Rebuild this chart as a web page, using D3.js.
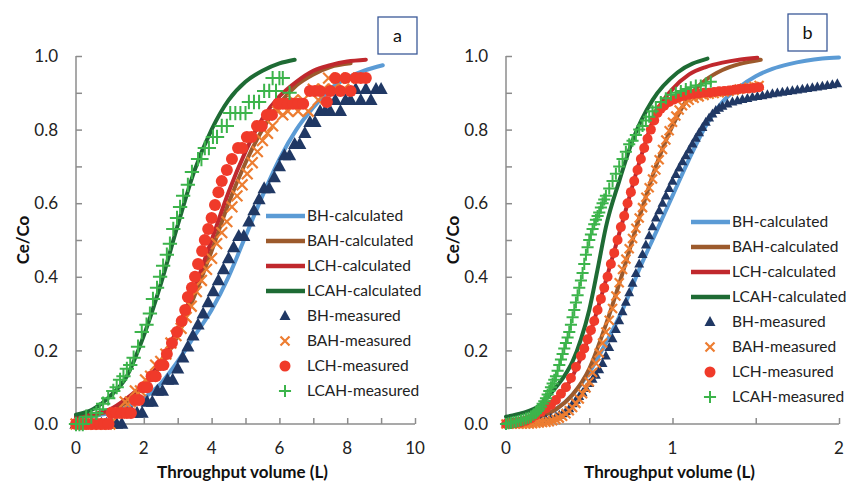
<!DOCTYPE html>
<html><head><meta charset="utf-8">
<script src="https://cdn.jsdelivr.net/npm/d3@7"></script>
<style>body{margin:0;background:#fff}svg{display:block;font-family:Lato,"Open Sans",sans-serif}</style>
</head><body>
<script>
// ---------------- DATA ----------------
const seriesNames = ["BH-calculated","BAH-calculated","LCH-calculated","LCAH-calculated","BH-measured","BAH-measured","LCH-measured","LCAH-measured"];
const yTickLabels = ["0.0","0.2","0.4","0.6","0.8","1.0"];
const xTickLabelsA = ["0","2","4","6","8","10"];
const xTickLabelsB = ["0","1","2"];

// Panel a – calculated curves [volume L, Ce/Co]
const a_BH_calc = [[0,0.02],[1,0.03],[1.5,0.045],[2,0.07],[2.5,0.11],[3,0.17],[3.5,0.24],[4,0.31],[4.5,0.4],[5,0.51],[5.5,0.62],[6,0.72],[6.5,0.8],[7,0.86],[7.5,0.91],[8,0.94],[8.5,0.96],[9.05,0.975]];
const a_BAH_calc = [[0,0.02],[1,0.035],[1.5,0.06],[2,0.1],[2.5,0.16],[3,0.24],[3.5,0.35],[4,0.47],[4.5,0.6],[5,0.71],[5.5,0.8],[6,0.87],[6.5,0.92],[7,0.95],[7.5,0.97],[8.1,0.98]];
const a_LCH_calc = [[0,0.02],[1,0.04],[1.5,0.07],[2,0.11],[2.5,0.17],[3,0.26],[3.5,0.37],[4,0.5],[4.5,0.63],[5,0.74],[5.5,0.83],[6,0.89],[6.5,0.93],[7,0.96],[7.5,0.975],[8,0.985],[8.55,0.99]];
const a_LCAH_calc = [[0,0.025],[0.5,0.04],[1,0.075],[1.5,0.13],[2,0.24],[2.5,0.38],[3,0.54],[3.5,0.69],[4,0.8],[4.5,0.88],[5,0.93],[5.5,0.96],[6,0.98],[6.45,0.99]];

// Panel a – measured
const a_BH_meas = [[0,0],[0.15,0],[0.3,0],[0.45,0],[0.6,0],[0.75,0],[0.9,0],[1.05,0],[1.2,0],[1.35,0],[1.5,0.03],[1.65,0.03],[1.8,0.03],[1.95,0.03],[2.1,0.06],[2.25,0.06],[2.4,0.09],[2.55,0.09],[2.7,0.12],[2.85,0.12],[3.0,0.15],[3.15,0.18],[3.3,0.21],[3.45,0.24],[3.6,0.27],[3.75,0.3],[3.9,0.33],[4.05,0.36],[4.2,0.39],[4.35,0.42],[4.5,0.45],[4.65,0.48],[4.8,0.51],[4.95,0.51],[5.1,0.55],[5.25,0.58],[5.4,0.61],[5.55,0.64],[5.7,0.64],[5.85,0.67],[6.0,0.7],[6.15,0.73],[6.3,0.73],[6.45,0.76],[6.6,0.76],[6.75,0.79],[6.9,0.82],[7.05,0.82],[7.2,0.85],[7.35,0.85],[7.5,0.85],[7.65,0.88],[7.8,0.85],[7.95,0.88],[8.1,0.88],[8.25,0.91],[8.4,0.88],[8.55,0.91],[8.7,0.88],[8.85,0.91],[9.0,0.91]];
const a_BAH_meas = [[0,0],[0.15,0],[0.3,0],[0.45,0],[0.6,0],[0.75,0],[0.9,0],[1.0,0],[1.15,0.03],[1.3,0.03],[1.45,0.06],[1.6,0.06],[1.75,0.09],[1.9,0.09],[2.05,0.12],[2.2,0.13],[2.35,0.16],[2.5,0.17],[2.65,0.19],[2.8,0.22],[2.95,0.24],[3.1,0.26],[3.25,0.29],[3.4,0.32],[3.55,0.36],[3.7,0.39],[3.85,0.42],[4.0,0.45],[4.15,0.49],[4.3,0.52],[4.45,0.55],[4.6,0.59],[4.75,0.62],[4.9,0.65],[5.05,0.68],[5.2,0.71],[5.35,0.74],[5.5,0.77],[5.65,0.79],[5.8,0.81],[5.95,0.85],[6.1,0.84],[6.25,0.85],[6.4,0.88],[6.55,0.85],[6.7,0.88],[6.85,0.85],[7.0,0.91],[7.15,0.88],[7.3,0.91],[7.45,0.94],[7.6,0.91],[7.75,0.94],[7.9,0.91],[8.05,0.94]];
const a_LCH_meas = [[0,0],[0.12,0],[0.24,0],[0.36,0],[0.48,0],[0.6,0],[0.72,0],[0.84,0],[0.96,0],[1.05,0.03],[1.2,0.03],[1.35,0.03],[1.5,0.03],[1.62,0.03],[1.74,0.065],[1.86,0.065],[1.98,0.1],[2.1,0.1],[2.23,0.13],[2.35,0.13],[2.48,0.16],[2.58,0.16],[2.68,0.19],[2.83,0.22],[2.98,0.25],[3.12,0.28],[3.22,0.31],[3.3,0.345],[3.42,0.37],[3.51,0.4],[3.6,0.435],[3.72,0.47],[3.8,0.5],[3.9,0.53],[4.0,0.56],[4.1,0.595],[4.2,0.63],[4.3,0.66],[4.45,0.69],[4.6,0.72],[4.78,0.75],[4.9,0.75],[5.04,0.78],[5.18,0.78],[5.34,0.81],[5.48,0.81],[5.63,0.84],[5.78,0.84],[5.97,0.87],[6.1,0.87],[6.25,0.87],[6.4,0.87],[6.55,0.87],[6.7,0.87],[6.9,0.905],[7.05,0.905],[7.2,0.905],[7.4,0.875],[7.5,0.905],[7.65,0.94],[7.8,0.905],[7.95,0.94],[8.1,0.905],[8.25,0.94],[8.4,0.94],[8.55,0.94]];
const a_LCAH_meas = [[0,0],[0.1,0],[0.2,0],[0.3,0.02],[0.45,0.02],[0.6,0.03],[0.7,0.04],[0.8,0.055],[0.95,0.07],[1.1,0.09],[1.2,0.1],[1.3,0.12],[1.4,0.13],[1.5,0.15],[1.6,0.16],[1.7,0.18],[1.83,0.21],[1.94,0.25],[2.08,0.27],[2.18,0.3],[2.27,0.34],[2.39,0.37],[2.48,0.4],[2.57,0.43],[2.68,0.46],[2.77,0.49],[2.87,0.53],[2.98,0.56],[3.07,0.59],[3.16,0.62],[3.3,0.65],[3.42,0.685],[3.6,0.72],[3.7,0.72],[3.8,0.75],[3.92,0.75],[4.04,0.78],[4.16,0.78],[4.3,0.81],[4.45,0.81],[4.55,0.845],[4.7,0.845],[4.85,0.845],[5.0,0.845],[5.1,0.875],[5.25,0.875],[5.4,0.875],[5.55,0.905],[5.7,0.905],[5.8,0.94],[5.9,0.905],[6.0,0.94],[6.1,0.94],[6.3,0.9]];

// Panel b – calculated curves
const b_BH_calc = [[0,0.005],[0.1,0.01],[0.2,0.02],[0.3,0.04],[0.4,0.08],[0.5,0.14],[0.6,0.22],[0.7,0.31],[0.8,0.42],[0.9,0.52],[1.0,0.62],[1.1,0.72],[1.2,0.81],[1.3,0.875],[1.4,0.915],[1.5,0.945],[1.6,0.965],[1.7,0.978],[1.8,0.987],[1.9,0.993],[2.0,0.996]];
const b_BAH_calc = [[0,0.01],[0.1,0.012],[0.2,0.02],[0.3,0.04],[0.4,0.08],[0.5,0.15],[0.6,0.27],[0.7,0.41],[0.8,0.56],[0.9,0.7],[1.0,0.81],[1.1,0.89],[1.2,0.935],[1.3,0.962],[1.4,0.978],[1.53,0.99]];
const b_LCH_calc = [[0,0.01],[0.1,0.015],[0.2,0.03],[0.3,0.065],[0.4,0.13],[0.5,0.24],[0.6,0.39],[0.7,0.55],[0.8,0.71],[0.9,0.845],[1.0,0.91],[1.1,0.95],[1.2,0.97],[1.3,0.982],[1.4,0.99],[1.51,0.995]];
const b_LCAH_calc = [[0,0.02],[0.1,0.03],[0.2,0.05],[0.3,0.1],[0.35,0.13],[0.4,0.17],[0.45,0.23],[0.5,0.31],[0.55,0.42],[0.6,0.535],[0.68,0.66],[0.76,0.77],[0.88,0.88],[1.03,0.955],[1.21,0.993]];

// Panel b – measured
const b_BH_meas = [[0,0],[0.03,0],[0.06,0.001],[0.09,0.002],[0.12,0.003],[0.15,0.004],[0.18,0.006],[0.21,0.009],[0.24,0.012],[0.27,0.016],[0.3,0.02],[0.32,0.024],[0.34,0.028],[0.36,0.034],[0.38,0.042],[0.4,0.055],[0.42,0.065],[0.44,0.075],[0.46,0.085],[0.48,0.097],[0.5,0.11],[0.52,0.122],[0.54,0.133],[0.56,0.148],[0.58,0.165],[0.6,0.185],[0.62,0.208],[0.64,0.232],[0.66,0.257],[0.68,0.281],[0.7,0.305],[0.72,0.331],[0.74,0.357],[0.76,0.383],[0.78,0.409],[0.8,0.435],[0.82,0.461],[0.84,0.487],[0.86,0.512],[0.88,0.536],[0.9,0.56],[0.92,0.58],[0.94,0.6],[0.96,0.62],[0.98,0.64],[1.0,0.66],[1.02,0.678],[1.04,0.696],[1.06,0.713],[1.08,0.729],[1.1,0.745],[1.12,0.761],[1.14,0.777],[1.16,0.792],[1.18,0.806],[1.2,0.82],[1.22,0.832],[1.24,0.843],[1.26,0.852],[1.28,0.858],[1.3,0.864],[1.33,0.87],[1.36,0.875],[1.39,0.879],[1.42,0.882],[1.45,0.885],[1.48,0.888],[1.51,0.89],[1.54,0.892],[1.57,0.895],[1.6,0.898],[1.63,0.9],[1.66,0.902],[1.69,0.904],[1.72,0.906],[1.75,0.908],[1.78,0.91],[1.81,0.912],[1.84,0.914],[1.87,0.916],[1.9,0.918],[1.93,0.92],[1.96,0.922],[1.99,0.925]];
const b_BAH_meas = [[0,0],[0.02,0],[0.04,0],[0.06,0],[0.08,0],[0.1,0],[0.12,0],[0.14,0],[0.16,0.001],[0.18,0.002],[0.2,0.003],[0.22,0.004],[0.24,0.005],[0.26,0.006],[0.28,0.009],[0.3,0.012],[0.32,0.016],[0.34,0.021],[0.36,0.028],[0.38,0.036],[0.4,0.045],[0.42,0.056],[0.44,0.068],[0.46,0.082],[0.48,0.098],[0.5,0.115],[0.52,0.14],[0.54,0.165],[0.56,0.193],[0.58,0.22],[0.6,0.25],[0.62,0.282],[0.64,0.314],[0.66,0.348],[0.68,0.384],[0.7,0.42],[0.72,0.448],[0.74,0.476],[0.76,0.504],[0.78,0.532],[0.8,0.56],[0.82,0.588],[0.84,0.616],[0.86,0.642],[0.88,0.666],[0.9,0.69],[0.92,0.718],[0.94,0.746],[0.96,0.772],[0.98,0.797],[1.0,0.82],[1.02,0.837],[1.04,0.853],[1.06,0.865],[1.08,0.873],[1.1,0.88],[1.13,0.885],[1.16,0.889],[1.19,0.893],[1.22,0.896],[1.25,0.898],[1.28,0.9],[1.31,0.902],[1.34,0.904],[1.37,0.906],[1.4,0.91],[1.43,0.912],[1.46,0.915],[1.49,0.917],[1.52,0.92]];
const b_LCH_meas = [[0,0],[0.03,0.001],[0.06,0.002],[0.09,0.004],[0.12,0.009],[0.15,0.015],[0.18,0.024],[0.21,0.033],[0.24,0.042],[0.27,0.052],[0.3,0.065],[0.33,0.082],[0.36,0.1],[0.39,0.125],[0.42,0.155],[0.45,0.185],[0.47,0.205],[0.49,0.23],[0.51,0.255],[0.53,0.28],[0.55,0.31],[0.57,0.34],[0.59,0.37],[0.61,0.4],[0.63,0.435],[0.65,0.465],[0.67,0.5],[0.69,0.535],[0.71,0.565],[0.73,0.6],[0.75,0.63],[0.77,0.66],[0.79,0.69],[0.81,0.72],[0.83,0.75],[0.85,0.775],[0.87,0.8],[0.89,0.825],[0.91,0.845],[0.93,0.857],[0.95,0.865],[0.98,0.875],[1.01,0.882],[1.04,0.888],[1.07,0.892],[1.1,0.895],[1.13,0.897],[1.16,0.898],[1.19,0.9],[1.22,0.9],[1.25,0.902],[1.28,0.904],[1.31,0.905],[1.34,0.906],[1.37,0.908],[1.4,0.91],[1.43,0.911],[1.46,0.912],[1.49,0.913],[1.52,0.915]];
const b_LCAH_meas = [[0,0],[0.015,0.002],[0.03,0.003],[0.045,0.005],[0.06,0.006],[0.075,0.008],[0.09,0.01],[0.105,0.012],[0.12,0.015],[0.135,0.017],[0.15,0.02],[0.165,0.025],[0.18,0.03],[0.19,0.035],[0.2,0.04],[0.21,0.047],[0.22,0.055],[0.23,0.062],[0.24,0.07],[0.25,0.08],[0.26,0.09],[0.27,0.1],[0.28,0.11],[0.29,0.12],[0.3,0.13],[0.31,0.145],[0.32,0.16],[0.33,0.175],[0.34,0.19],[0.35,0.205],[0.36,0.22],[0.37,0.235],[0.38,0.25],[0.39,0.27],[0.4,0.29],[0.41,0.31],[0.42,0.33],[0.43,0.35],[0.44,0.37],[0.45,0.39],[0.46,0.41],[0.47,0.435],[0.48,0.46],[0.49,0.48],[0.5,0.5],[0.51,0.515],[0.52,0.53],[0.53,0.543],[0.54,0.555],[0.55,0.565],[0.56,0.575],[0.57,0.588],[0.58,0.6],[0.59,0.61],[0.6,0.62],[0.62,0.64],[0.64,0.66],[0.66,0.68],[0.68,0.7],[0.7,0.72],[0.72,0.74],[0.74,0.76],[0.76,0.77],[0.78,0.785],[0.8,0.8],[0.82,0.81],[0.84,0.825],[0.86,0.835],[0.88,0.85],[0.9,0.86],[0.93,0.875],[0.96,0.885],[0.99,0.895],[1.02,0.9],[1.05,0.905],[1.08,0.91],[1.11,0.915],[1.14,0.92],[1.17,0.92],[1.2,0.925],[1.23,0.93]];

// ---------------- STYLE ----------------
const lineColors = ["#5b9bd5","#9c5a2c","#c0282d","#1e6b34"];
const markColors = ["#203864","#ed7d31","#f03a2a","#3cb44b"];
const axisColor = "#8c8c8c";

const W = 846, H = 483;
const svg = d3.select("body").append("svg").attr("width", W).attr("height", H);

function markerPath(kind, s) {
  if (kind === 0) { const w = s * 1.1, h = s; return `M0,${-h*0.6}L${w/2},${h*0.4}L${-w/2},${h*0.4}Z`; }
  if (kind === 1) { const r = s * 0.45; return `M${-r},${-r}L${r},${r}M${-r},${r}L${r},${-r}`; }
  if (kind === 3) { const r = s * 0.55; return `M${-r},0H${r}M0,${-r}V${r}`; }
  return null;
}
function drawMarker(g, kind, x, y, s) {
  if (kind === 2) {
    g.append("circle").attr("cx", x).attr("cy", y).attr("r", s * 0.5).attr("fill", markColors[2]);
  } else if (kind === 0) {
    g.append("path").attr("transform", `translate(${x},${y})`).attr("d", markerPath(0, s)).attr("fill", markColors[0]);
  } else {
    g.append("path").attr("transform", `translate(${x},${y})`).attr("d", markerPath(kind, s))
      .attr("stroke", markColors[kind]).attr("stroke-width", kind === 1 ? 2.2 : 2).attr("fill", "none");
  }
}

function panel(cfg) {
  const x = d3.scaleLinear().domain([0, cfg.xMax]).range([cfg.left, cfg.right]);
  const y = d3.scaleLinear().domain([0, 1]).range([cfg.bottom, cfg.top]);
  const g = svg.append("g");

  // axes
  const yAxis = d3.axisRight(y).tickValues(d3.range(0, 11).map(i => i / 10)).tickSize(6).tickFormat("");
  const ga = g.append("g").attr("transform", `translate(${cfg.left},0)`).call(yAxis);
  const xTicks = d3.range(0, Math.round(cfg.xMax / cfg.xStep) + 1).map(i => i * cfg.xStep);
  const xAxis = d3.axisTop(x).tickValues(xTicks).tickSize(6).tickFormat("");
  const gx = g.append("g").attr("transform", `translate(0,${cfg.bottom})`).call(xAxis);
  [ga, gx].forEach(a => { a.selectAll("path,line").attr("stroke", axisColor).attr("stroke-width", 1.5); a.select(".domain").attr("d", null); });
  g.append("line").attr("x1", cfg.left).attr("x2", cfg.left).attr("y1", y(1)).attr("y2", y(0)).attr("stroke", axisColor).attr("stroke-width", 1.5);
  g.append("line").attr("x1", cfg.left).attr("x2", cfg.right).attr("y1", y(0)).attr("y2", y(0)).attr("stroke", axisColor).attr("stroke-width", 1.5);

  // tick labels
  yTickLabels.forEach(t => {
    g.append("text").attr("x", cfg.left - 18).attr("y", y(+t)).attr("dy", "0.36em").attr("text-anchor", "end")
      .attr("font-size", 17).attr("fill", "#222").text(t);
  });
  cfg.xLabels.forEach(t => {
    g.append("text").attr("x", x(+t)).attr("y", cfg.bottom + 30).attr("text-anchor", "middle")
      .attr("font-size", 17).attr("fill", "#222").text(t);
  });
  // axis titles
  g.append("text").attr("transform", `translate(${cfg.left - 53},${(cfg.top + cfg.bottom) / 2}) rotate(-90)`)
    .attr("text-anchor", "middle").attr("dy", "0.35em").attr("font-weight", "bold").attr("font-size", 17).attr("fill", "#111").text("Ce/Co");
  g.append("text").attr("x", (cfg.left + cfg.right) / 2 - 3).attr("y", 478).attr("text-anchor", "middle")
    .attr("font-weight", "bold").attr("font-size", 17).attr("fill", "#111").text("Throughput volume (L)");

  // panel letter box
  g.append("rect").attr("x", cfg.box[0]).attr("y", cfg.box[1]).attr("width", 39).attr("height", 37)
    .attr("fill", "#fff").attr("stroke", "#3b5998").attr("stroke-width", 1.3);
  g.append("text").attr("x", cfg.box[0] + 19.5).attr("y", cfg.box[1] + 18.5).attr("dy", "0.35em").attr("text-anchor", "middle")
    .attr("font-size", 18).attr("fill", "#111").text(cfg.letter);

  // calculated lines
  const line = d3.line().x(d => x(d[0])).y(d => y(d[1])).curve(d3.curveMonotoneX);
  cfg.calc.forEach((data, i) => {
    g.append("path").attr("d", line(data)).attr("fill", "none").attr("stroke", lineColors[i])
      .attr("stroke-width", 4).attr("stroke-linecap", "round");
  });
  // measured markers
  cfg.meas.forEach((data, k) => {
    const gm = g.append("g");
    data.forEach(d => drawMarker(gm, k, x(d[0]), y(d[1]), cfg.msize[k]));
  });

  // legend
  const lg = g.append("g");
  for (let i = 0; i < 8; i++) {
    const yy = cfg.legY + i * 25;
    if (i < 4) {
      lg.append("line").attr("x1", cfg.legX).attr("x2", cfg.legX + 39).attr("y1", yy).attr("y2", yy)
        .attr("stroke", lineColors[i]).attr("stroke-width", 4.5);
    } else {
      drawMarker(lg, i - 4, cfg.legX + 19, yy, [10, 10, 11, 11][i - 4]);
    }
    lg.append("text").attr("x", cfg.legX + 41).attr("y", yy).attr("dy", "0.35em").attr("font-size", 15.5)
      .attr("fill", "#222").text(seriesNames[i]);
  }
}

panel({ left: 76, right: 415, top: 56, bottom: 424, xMax: 10, xStep: 1, xLabels: xTickLabelsA,
  box: [378, 17], letter: "a", legX: 266, legY: 216,
  calc: [a_BH_calc, a_BAH_calc, a_LCH_calc, a_LCAH_calc],
  meas: [a_BH_meas, a_BAH_meas, a_LCH_meas, a_LCAH_meas], msize: [12, 12, 12, 13] });
panel({ left: 506, right: 839, top: 56, bottom: 424, xMax: 2, xStep: 0.5, xLabels: xTickLabelsB,
  box: [788, 14], letter: "b", legX: 691, legY: 222,
  calc: [b_BH_calc, b_BAH_calc, b_LCH_calc, b_LCAH_calc],
  meas: [b_BH_meas, b_BAH_meas, b_LCH_meas, b_LCAH_meas], msize: [9, 10, 10, 11] });
</script>
</body></html>
